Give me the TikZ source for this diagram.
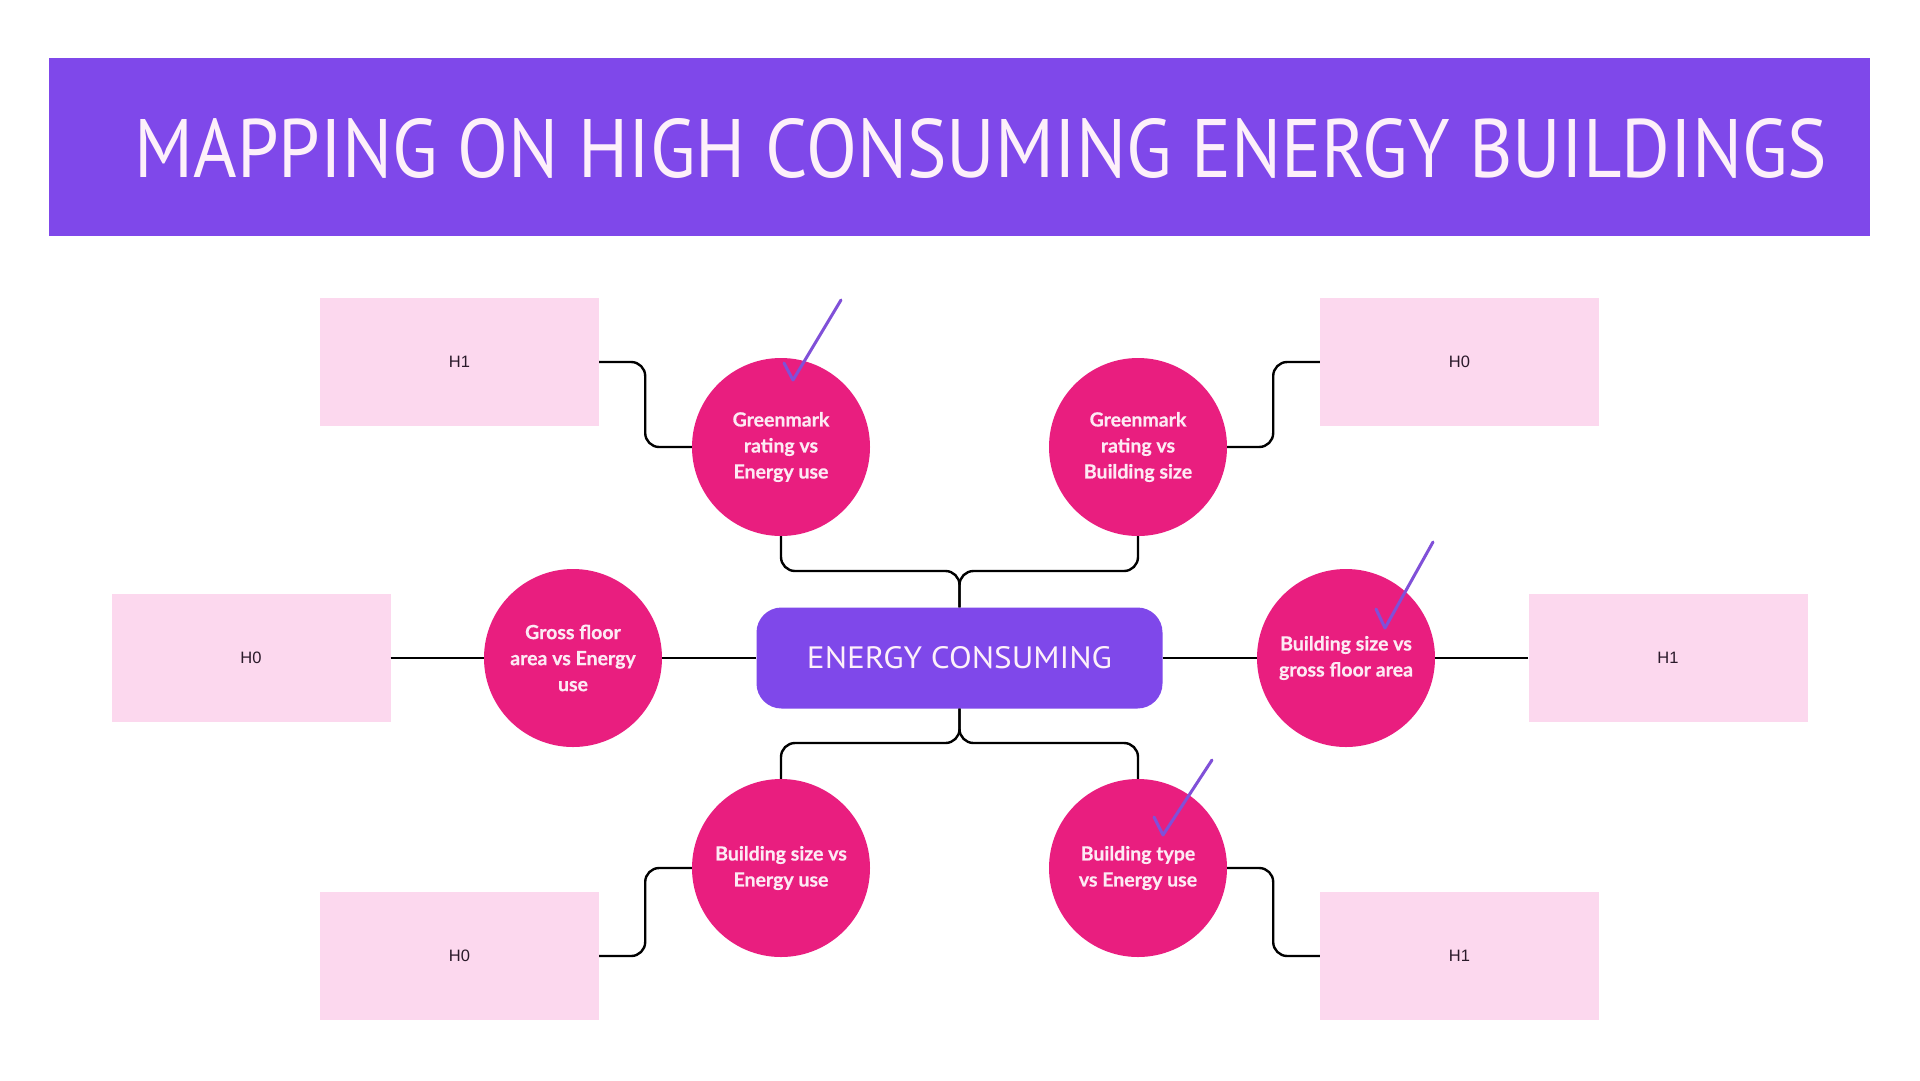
\documentclass[tikz,border=0pt]{standalone}
\usepackage{fontspec}
\setmainfont{Lato}[BoldFeatures={FakeBold=0.6}]
\newfontfamily\titlefont{PT Sans}
\newfontfamily\hfont{Liberation Sans}
\definecolor{barpurple}{HTML}{7F48EA}
\definecolor{topicpink}{HTML}{E91E7F}
\definecolor{boxpink}{HTML}{FCD8EE}
\definecolor{circtext}{HTML}{FDEAF4}
\definecolor{titletext}{HTML}{FDF0FA}
\definecolor{hdark}{HTML}{2A1A2A}
\definecolor{tickpurple}{HTML}{8050D8}
\tikzset{
  hyp/.style={fill=boxpink, minimum width=279pt, minimum height=128pt, inner sep=0pt,
    text=hdark, font=\hfont\fontsize{16.5}{19}\selectfont},
  topic/.style={circle, fill=topicpink, minimum size=178pt, inner sep=0pt, align=center,
    text=circtext, font=\bfseries\fontsize{19.5}{26}\selectfont},
  core/.style={rectangle, rounded corners=25pt, fill=barpurple, minimum width=406pt,
    minimum height=101pt, inner sep=0pt, text=titletext},
  conn/.style={draw=black, line width=2.4pt, rounded corners=14pt},
  tick/.style={draw=tickpurple, line width=3pt, line cap=round, line join=round},
}
\begin{document}
\begin{tikzpicture}[x=1pt,y=-1pt]
\useasboundingbox (0,0) rectangle (1920,1080);
\fill[white] (0,0) rectangle (1920,1080);
% title bar
\node[fill=barpurple, minimum width=1821pt, minimum height=178pt, inner sep=0pt] (bar) at (959.5,147) {};
\node[inner sep=0pt, text=titletext] (title) at (981,148.5)
  {\resizebox{1692pt}{59pt}{\titlefont MAPPING ON HIGH CONSUMING ENERGY BUILDINGS}};
% core
\node[core] (core) at (959.5,658) {\resizebox{305pt}{22pt}{\titlefont ENERGY CONSUMING}};
% topics
\node[topic] (c1) at (781,447) {Greenmark\\rating vs\\Energy use};
\node[topic] (c2) at (1138,447) {Greenmark\\rating vs\\Building size};
\node[topic] (c3) at (573,658) {Gross floor\\area vs Energy\\use};
\node[topic] (c4) at (1346,658) {Building size vs\\gross floor area};
\node[topic] (c5) at (781,868) {Building size vs\\Energy use};
\node[topic] (c6) at (1138,868) {Building type\\vs Energy use};
% hypotheses
\node[hyp] (h1) at (459.5,362) {H1};
\node[hyp] (h2) at (1459.5,362) {H0};
\node[hyp] (h3) at (251,658) {H0};
\node[hyp] (h4) at (1668,658) {H1};
\node[hyp] (h5) at (459.5,956) {H0};
\node[hyp] (h6) at (1459.5,956) {H1};
% junctions
\coordinate (jt) at (959.5,571);
\coordinate (jb) at (959.5,743);
% connectors
\draw[conn] (c1.south) |- (jt) -- (core.north);
\draw[conn] (c2.south) |- (jt) -- (core.north);
\draw[conn] (core.south) -- (jb) -| (c5.north);
\draw[conn] (core.south) -- (jb) -| (c6.north);
\draw[conn] (h3.east) -- (c3.west);
\draw[conn] (c3.east) -- (core.west);
\draw[conn] (core.east) -- (c4.west);
\draw[conn] (c4.east) -- (h4.west);
\draw[conn] (h1.east) -- ++(46,0) |- (c1.west);
\draw[conn] (c2.east) -- ++(46,0) |- (h2.west);
\draw[conn] (h5.east) -- ++(46,0) |- (c5.west);
\draw[conn] (c6.east) -- ++(46,0) |- (h6.west);
% ticks
\draw[tick] (784,363) -- (793,380) -- (841,300);
\draw[tick] (1376,609) -- (1385,628) -- (1433,542);
\draw[tick] (1154,817) -- (1163,835) -- (1212,760);
\end{tikzpicture}
\end{document}
